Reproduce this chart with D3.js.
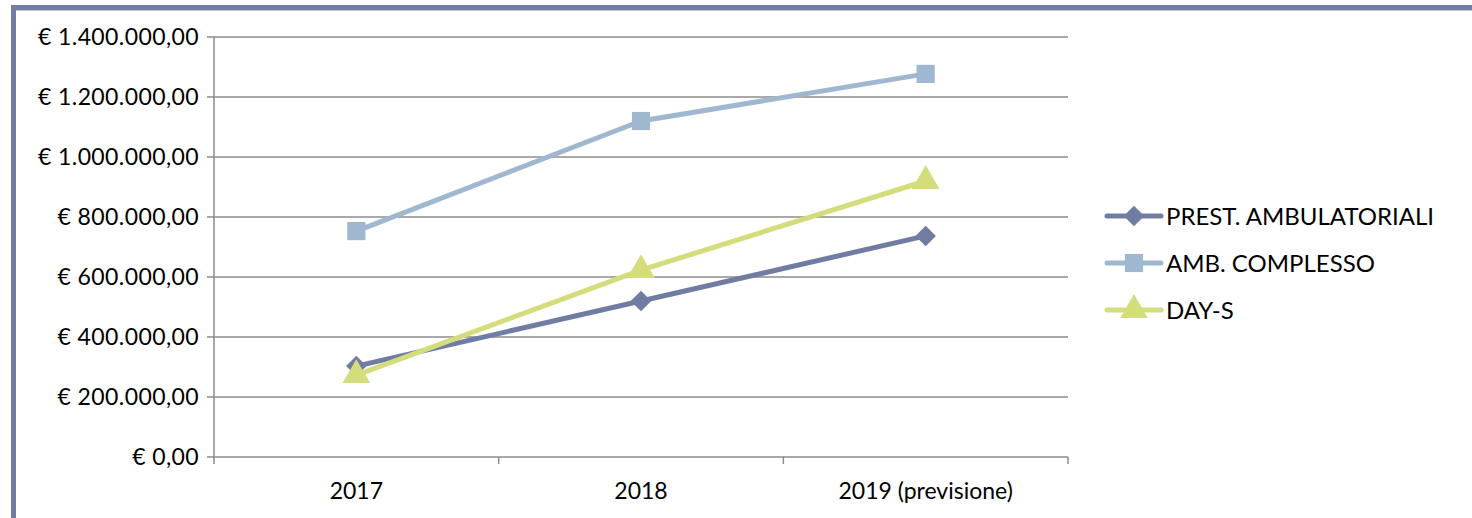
<!DOCTYPE html>
<html>
<head>
<meta charset="utf-8" />
<title>Chart</title>
<style>
html, body { margin: 0; padding: 0; background: #fff; }
svg { display: block; }
text { font-family: Lato, "Open Sans", sans-serif; fill: #000; }
</style>
</head>
<body>
<div id="chart"></div>
<script src="https://cdnjs.cloudflare.com/ajax/libs/d3/7.8.5/d3.min.js"></script>
<script>
var categories = ["2017", "2018", "2019 (previsione)"]
var seriesNames = ["PREST. AMBULATORIALI", "AMB. COMPLESSO", "DAY-S"]
var prest = [303000, 520000, 737000]
var amb = [753000, 1120000, 1277000]
var dayS = [273000, 623000, 920000]
var yTicks = [0, 200000, 400000, 600000, 800000, 1000000, 1200000, 1400000]

var colors = ["#717ca3", "#9fb7cf", "#d4dc7b"]
var symbols = [d3.symbolSquare, d3.symbolSquare, d3.symbolTriangle]
var rotations = [45, 0, 0]
var series = [prest, amb, dayS]

var width = 1472, height = 518
var svg = d3.select("#chart").append("svg").attr("width", width).attr("height", height)

// frame
svg.append("rect").attr("x", 13.5).attr("y", 7.5).attr("width", width).attr("height", height)
    .attr("fill", "none").attr("stroke", "#717ca3").attr("stroke-width", 5)
svg.append("line").attr("x1", 16).attr("x2", width).attr("y1", 10.5).attr("y2", 10.5)
    .attr("stroke", "#c3c8db").attr("stroke-width", 1)

var x = d3.scaleBand().domain(categories).range([214, 1068])
var y = d3.scaleLinear().domain([0, 1400000]).range([457, 37])

function fmt(v) {
    var s = d3.format(",.2f")(v)
    s = s.replace(/,/g, "#").replace(".", ",").replace(/#/g, ".")
    return "€ " + s
}

var g = svg.append("g")

// gridlines
g.selectAll(".grid").data(yTicks).enter().append("line")
    .attr("x1", 207).attr("x2", 1068)
    .attr("y1", function(d) { return y(d) }).attr("y2", function(d) { return y(d) })
    .attr("stroke", "#8c8c8c").attr("stroke-width", 1.5)

// y axis line
g.append("line").attr("x1", 214).attr("x2", 214).attr("y1", 37).attr("y2", 457)
    .attr("stroke", "#8c8c8c").attr("stroke-width", 1.5)

// x ticks
var xt = [214].concat(categories.map(function(c) { return x(c) + x.bandwidth() }))
g.selectAll(".xt").data(xt).enter().append("line")
    .attr("x1", function(d) { return d }).attr("x2", function(d) { return d })
    .attr("y1", 457).attr("y2", 464)
    .attr("stroke", "#8c8c8c").attr("stroke-width", 1.5)

g.selectAll(".yl").data(yTicks).enter().append("text")
    .attr("x", 199).attr("y", function(d) { return y(d) })
    .attr("dy", "0.35em").attr("text-anchor", "end")
    .style("font-size", "23px").style("letter-spacing", "0.4px")
    .text(fmt)

g.selectAll(".xl").data(categories).enter().append("text")
    .attr("x", function(d) { return x(d) + x.bandwidth() / 2 }).attr("y", 499)
    .attr("text-anchor", "middle").style("font-size", "23px")
    .text(function(d) { return d })

var line = d3.line()
    .x(function(d, i) { return x(categories[i]) + x.bandwidth() / 2 })
    .y(function(d) { return y(d) })

var sizes = [210, 330, 330]

series.forEach(function(s, k) {
    g.append("path").datum(s).attr("d", line)
        .attr("fill", "none").attr("stroke", colors[k]).attr("stroke-width", 5)
        .attr("stroke-linejoin", "round")
    g.selectAll(".m" + k).data(s).enter().append("path")
        .attr("transform", function(d, i) {
            return "translate(" + (x(categories[i]) + x.bandwidth() / 2) + "," + y(d) + ") rotate(" + rotations[k] + ")"
        })
        .attr("d", d3.symbol().type(symbols[k]).size(sizes[k]))
        .attr("fill", colors[k])
})

// legend
var leg = svg.append("g")
seriesNames.forEach(function(name, k) {
    var ly = 216 + k * 47
    leg.append("line").attr("x1", 1107).attr("x2", 1161).attr("y1", ly).attr("y2", ly)
        .attr("stroke", colors[k]).attr("stroke-width", 5).attr("stroke-linecap", "round")
    leg.append("path").attr("transform", "translate(1134," + ly + ") rotate(" + rotations[k] + ")")
        .attr("d", d3.symbol().type(symbols[k]).size(sizes[k]))
        .attr("fill", colors[k])
    leg.append("text").attr("x", 1166).attr("y", ly).attr("dy", "0.36em")
        .style("font-size", "24px").text(name)
})
</script>
</body>
</html>
